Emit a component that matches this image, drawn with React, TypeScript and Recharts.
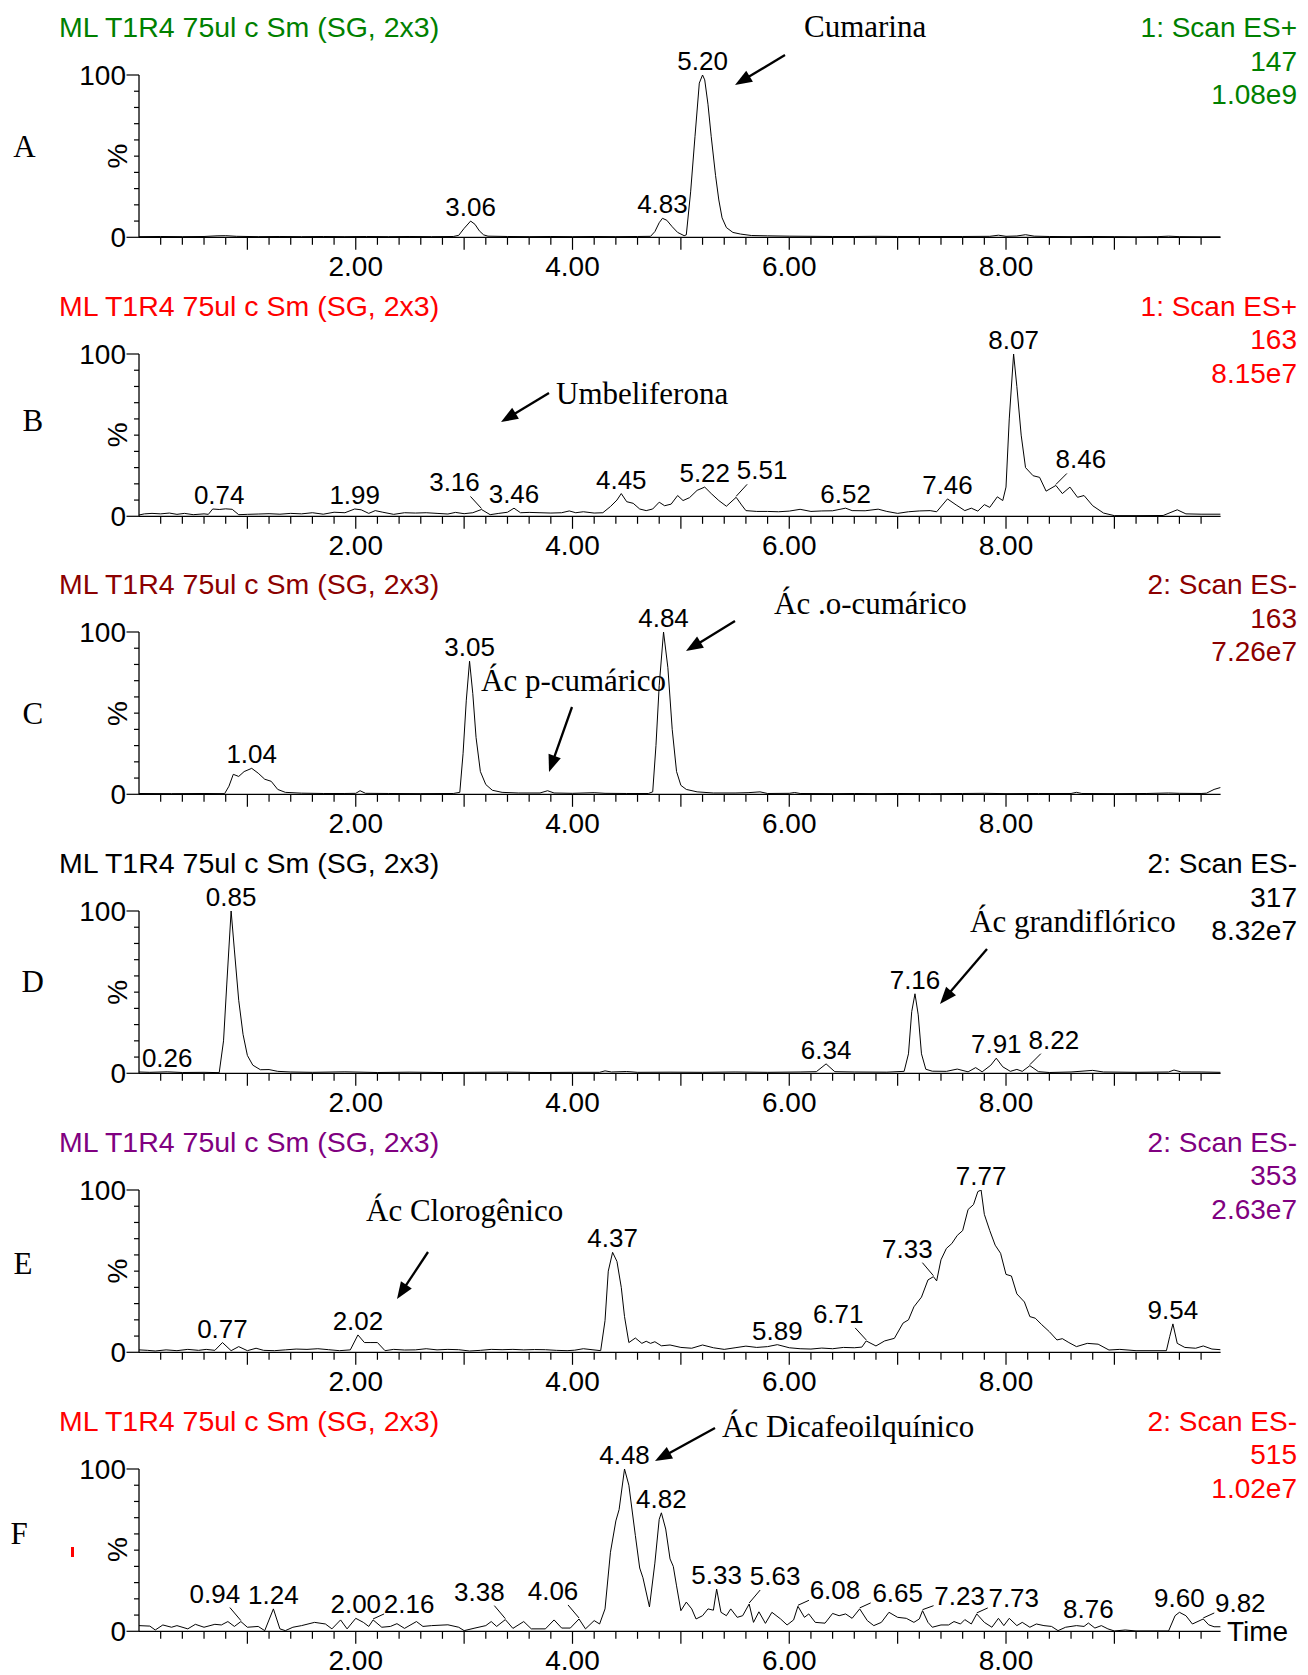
import React from 'react';
import { LineChart, Line, XAxis, YAxis, ReferenceDot } from 'recharts';

// ---------- data ----------
const sampleTitle = 'ML T1R4 75ul c Sm (SG, 2x3)';

const xTicks = [0.2, 0.4, 0.6, 0.8, 1, 1.2, 1.4, 1.6, 1.8, 2, 2.2, 2.4, 2.6, 2.8, 3, 3.2, 3.4, 3.6, 3.8, 4,
  4.2, 4.4, 4.6, 4.8, 5, 5.2, 5.4, 5.6, 5.8, 6, 6.2, 6.4, 6.6, 6.8, 7, 7.2, 7.4, 7.6, 7.8, 8,
  8.2, 8.4, 8.6, 8.8, 9, 9.2, 9.4, 9.6, 9.8];
const xLabelTicks = [2, 4, 6, 8];
const yTicks = [0, 10, 20, 30, 40, 50, 60, 70, 80, 90, 100];
const yLabelTicks = [0, 100];

const seriesA: [number, number][] = [
  [0, 0.4], [0.2, 0.5], [0.4, 0.4], [0.6, 0.5], [0.72, 0.9], [0.8, 1.0], [0.9, 0.6], [1.1, 0.4], [1.3, 0.5],
  [1.5, 0.4], [1.7, 0.5], [1.9, 0.4], [2.1, 0.5], [2.3, 0.4], [2.5, 0.5], [2.7, 0.4], [2.9, 0.5], [2.95, 1.2],
  [3.0, 5.5], [3.06, 10], [3.1, 8], [3.14, 4], [3.18, 1.5], [3.22, 0.7], [3.4, 0.5], [3.6, 0.4], [3.8, 0.5],
  [4.0, 0.4], [4.2, 0.5], [4.4, 0.4], [4.6, 0.5], [4.72, 0.6], [4.76, 3.5], [4.8, 9], [4.83, 11.7], [4.87, 10.5],
  [4.92, 6.5], [4.97, 3], [5.03, 1.0], [5.05, 1.5], [5.09, 28], [5.13, 62], [5.17, 95], [5.2, 100], [5.22, 97],
  [5.25, 82], [5.28, 62], [5.32, 38], [5.35, 23], [5.38, 12], [5.42, 6], [5.48, 3], [5.55, 2], [5.65, 1.1],
  [5.8, 0.9], [6.0, 0.7], [6.2, 0.6], [6.4, 0.5], [6.6, 0.5], [6.8, 0.6], [7.0, 0.5], [7.2, 0.5], [7.4, 0.5],
  [7.6, 0.5], [7.85, 0.6], [7.93, 1.3], [8.0, 0.6], [8.1, 0.8], [8.18, 1.6], [8.26, 0.7], [8.4, 0.5], [8.6, 0.4],
  [8.8, 0.5], [9.0, 0.4], [9.2, 0.3], [9.4, 0.4], [9.5, 0.7], [9.6, 0.4], [9.8, 0.3], [9.98, 0.3],
];
const peaksA: [number, number][] = [[3.06, 10], [4.83, 11.7], [5.2, 100]];

const seriesB: [number, number][] = [
  [0, 0.8], [0.05, 1.5], [0.12, 1.8], [0.2, 1.5], [0.28, 2], [0.35, 1.2], [0.42, 1.8], [0.5, 1], [0.6, 1.5],
  [0.64, 1.2], [0.68, 4.5], [0.74, 4.2], [0.8, 4.6], [0.86, 4.3], [0.92, 1], [1.0, 1.2], [1.1, 1.4], [1.2, 1.6],
  [1.3, 1.3], [1.4, 1.8], [1.5, 1.5], [1.6, 2.2], [1.7, 1.3], [1.8, 2.5], [1.9, 2.2], [1.99, 4.5], [2.05, 4],
  [2.12, 1.8], [2.18, 3.5], [2.25, 2.5], [2.35, 1.2], [2.45, 2.2], [2.55, 2], [2.65, 2.2], [2.75, 1.8], [2.85, 1.4],
  [2.92, 2.4], [3.0, 1.6], [3.08, 2.2], [3.16, 4.2], [3.24, 1], [3.32, 1.8], [3.4, 2.5], [3.46, 5], [3.52, 2.2],
  [3.6, 2.4], [3.7, 2.2], [3.8, 2], [3.9, 2.2], [3.97, 3.3], [4.03, 2.2], [4.1, 2.8], [4.2, 2], [4.28, 2.2],
  [4.35, 6], [4.41, 10], [4.45, 14], [4.5, 9], [4.56, 8], [4.62, 4.5], [4.68, 3.5], [4.74, 4.5], [4.8, 8.7],
  [4.85, 6.5], [4.91, 7.5], [4.97, 12.8], [5.02, 9.7], [5.08, 11.5], [5.15, 16], [5.22, 18], [5.28, 14],
  [5.35, 9.7], [5.42, 6.2], [5.51, 11.7], [5.56, 7], [5.6, 3.5], [5.7, 3], [5.8, 3], [5.9, 2.8], [6.0, 3.2],
  [6.1, 4.3], [6.2, 3], [6.3, 3.3], [6.4, 3.4], [6.52, 5], [6.58, 3.5], [6.7, 3.4], [6.82, 4.4], [6.9, 3],
  [7.0, 1.8], [7.1, 2.8], [7.2, 3.3], [7.3, 3.5], [7.36, 2.8], [7.46, 10.7], [7.54, 7], [7.62, 3.5], [7.68, 5],
  [7.74, 3.2], [7.8, 7.2], [7.85, 5.5], [7.92, 12], [7.97, 9.7], [8.0, 18], [8.03, 60], [8.07, 100], [8.1, 80],
  [8.14, 50], [8.18, 30], [8.25, 25], [8.31, 24], [8.37, 15.5], [8.46, 19], [8.52, 14], [8.59, 18], [8.66, 11.7],
  [8.72, 12.8], [8.8, 6.5], [8.9, 2], [9.0, 0.4], [9.2, 0.4], [9.45, 0.5], [9.58, 4], [9.66, 1.5], [9.8, 1.3],
  [9.98, 1.3],
];
const peaksB: [number, number][] = [[0.74, 4.2], [1.99, 4.5], [3.16, 4.2], [3.46, 5], [4.45, 14], [5.22, 18],
  [5.51, 11.7], [6.52, 5], [7.46, 10.7], [8.07, 100], [8.46, 19]];

const seriesC: [number, number][] = [
  [0, 0.5], [0.3, 0.4], [0.6, 0.5], [0.79, 0.4], [0.83, 5], [0.87, 12.3], [0.92, 11], [0.97, 14], [1.04, 16],
  [1.1, 13], [1.16, 9.3], [1.22, 8], [1.28, 3], [1.35, 1.2], [1.5, 0.7], [1.7, 0.5], [1.9, 0.5], [2.0, 0.6],
  [2.04, 2.2], [2.09, 0.6], [2.3, 0.5], [2.6, 0.4], [2.9, 0.5], [2.96, 1.2], [2.99, 25], [3.02, 58], [3.05, 82],
  [3.08, 62], [3.11, 35], [3.15, 14], [3.2, 6], [3.26, 2.5], [3.35, 1.2], [3.5, 0.8], [3.7, 0.8], [3.77, 2.2],
  [3.83, 0.8], [4.0, 0.6], [4.2, 1], [4.3, 0.6], [4.5, 0.5], [4.7, 0.5], [4.74, 1.5], [4.77, 30], [4.8, 67],
  [4.84, 100], [4.88, 78], [4.92, 40], [4.96, 14], [5.0, 5.5], [5.05, 3], [5.15, 1.5], [5.3, 0.8], [5.5, 0.8],
  [5.62, 1], [5.73, 1.5], [5.8, 0.5], [6.0, 0.6], [6.05, 1.1], [6.1, 0.5], [6.4, 0.4], [6.6, 0.5], [6.8, 0.4],
  [7.0, 0.5], [7.3, 0.4], [7.6, 0.5], [7.8, 0.6], [8.0, 0.4], [8.3, 0.5], [8.6, 0.5], [8.65, 1.2], [8.7, 0.5],
  [9.0, 0.4], [9.3, 0.5], [9.5, 0.8], [9.6, 0.6], [9.8, 0.5], [9.85, 0.7], [9.92, 3], [9.98, 4.2],
];
const peaksC: [number, number][] = [[1.04, 16], [3.05, 82], [4.84, 100]];

const seriesD: [number, number][] = [
  [0, 0.8], [0.1, 0.6], [0.26, 0.9], [0.4, 0.5], [0.6, 0.6], [0.74, 0.4], [0.78, 20], [0.81, 55], [0.85, 100],
  [0.88, 76], [0.92, 45], [0.96, 24], [1.0, 11], [1.05, 5], [1.12, 2.2], [1.2, 2.3], [1.28, 1.2], [1.4, 0.8],
  [1.6, 0.6], [1.9, 0.9], [2.2, 0.5], [2.5, 0.7], [2.8, 0.5], [3.1, 0.6], [3.4, 0.7], [3.7, 0.5], [4.0, 0.6],
  [4.25, 0.6], [4.3, 1.5], [4.36, 0.8], [4.5, 1.1], [4.6, 0.6], [4.9, 0.7], [5.2, 0.6], [5.5, 0.8], [5.8, 0.6],
  [6.1, 0.8], [6.25, 1], [6.34, 5.8], [6.42, 1], [6.6, 0.8], [6.9, 0.7], [7.06, 1.2], [7.1, 12], [7.13, 38],
  [7.16, 49], [7.19, 36], [7.22, 12], [7.26, 2.5], [7.32, 1.3], [7.45, 1.2], [7.55, 2.6], [7.65, 0.9],
  [7.72, 3.5], [7.78, 0.9], [7.86, 5], [7.91, 9.3], [7.97, 4], [8.04, 1.2], [8.1, 2.4], [8.15, 1.2], [8.22, 4.7],
  [8.3, 1], [8.4, 0.5], [8.6, 0.8], [8.8, 1.8], [8.9, 0.8], [9.2, 0.6], [9.5, 0.8], [9.55, 2], [9.62, 0.8],
  [9.8, 0.8], [9.98, 0.6],
];
const peaksD: [number, number][] = [[0.26, 0.9], [0.85, 100], [6.34, 5.8], [7.16, 49], [7.91, 9.3], [8.22, 4.7]];

const seriesE: [number, number][] = [
  [0, 1.5], [0.08, 1.2], [0.15, 0.8], [0.25, 1.5], [0.35, 1], [0.45, 1.8], [0.55, 1.2], [0.62, 1.8], [0.7, 1.2],
  [0.77, 6], [0.85, 1], [0.92, 3.5], [1.0, 1], [1.08, 2.5], [1.15, 1.2], [1.25, 1], [1.35, 1.5], [1.45, 2],
  [1.55, 1.8], [1.65, 2.2], [1.75, 1.6], [1.85, 1], [1.95, 1.5], [2.02, 10.7], [2.08, 6], [2.14, 6], [2.2, 6],
  [2.27, 1], [2.35, 1.8], [2.45, 1.4], [2.55, 1.5], [2.65, 2.2], [2.75, 1.5], [2.85, 1.8], [2.95, 1.6],
  [3.05, 0.8], [3.15, 1.2], [3.25, 1.8], [3.35, 1.6], [3.45, 1.8], [3.55, 1.5], [3.65, 1.7], [3.75, 1.6],
  [3.85, 1.2], [3.95, 1], [4.02, 1.3], [4.1, 2.2], [4.18, 1.6], [4.26, 1], [4.3, 19.5], [4.33, 50], [4.37, 61.6],
  [4.41, 56], [4.45, 40], [4.48, 22], [4.52, 6], [4.58, 8.8], [4.64, 5.5], [4.68, 6.8], [4.72, 5.5], [4.76, 6.5],
  [4.82, 4], [4.9, 4.5], [5.0, 3], [5.1, 2.5], [5.2, 4.5], [5.3, 2.8], [5.4, 1.8], [5.5, 2.8], [5.6, 3.8],
  [5.7, 3], [5.8, 3.5], [5.89, 4.7], [6.0, 2.8], [6.1, 2.2], [6.2, 2], [6.3, 2.6], [6.4, 2.2], [6.5, 3],
  [6.6, 2.8], [6.67, 3.2], [6.71, 7], [6.8, 3.9], [6.88, 7], [6.97, 8.6], [7.05, 18], [7.1, 20], [7.15, 28],
  [7.22, 34], [7.28, 44.6], [7.33, 46.6], [7.36, 44], [7.4, 57], [7.45, 64], [7.5, 67], [7.55, 72], [7.6, 75],
  [7.65, 88], [7.7, 91], [7.74, 99], [7.77, 100], [7.8, 85], [7.85, 75], [7.9, 66], [7.95, 61], [8.0, 48],
  [8.05, 47], [8.1, 36], [8.17, 31], [8.22, 22], [8.27, 21], [8.33, 17], [8.4, 12.7], [8.47, 7.6], [8.52, 8.4],
  [8.58, 6], [8.65, 3.5], [8.75, 5.5], [8.85, 5], [8.95, 1.4], [9.05, 1.8], [9.2, 1], [9.48, 1], [9.51, 9.6],
  [9.54, 17.5], [9.58, 5.5], [9.65, 3], [9.75, 2.5], [9.82, 3.9], [9.9, 2], [9.98, 1.6],
];
const peaksE: [number, number][] = [[0.77, 6], [2.02, 10.7], [4.37, 61.6], [5.89, 4.7], [6.71, 7], [7.33, 46.6],
  [7.77, 100], [9.54, 17.5]];

const seriesF: [number, number][] = [
  [0, 3.5], [0.1, 3.2], [0.15, 0.8], [0.22, 3.9], [0.3, 2.5], [0.35, 3.5], [0.45, 1.5], [0.52, 4.3], [0.6, 2.5],
  [0.7, 4.3], [0.76, 3.9], [0.82, 6], [0.88, 3], [0.94, 6], [1.0, 2.5], [1.1, 3], [1.16, 0.4], [1.24, 13.8],
  [1.3, 1.5], [1.35, 0.4], [1.42, 2.5], [1.5, 3.5], [1.62, 5.5], [1.72, 4.5], [1.78, 1.5], [1.86, 7], [1.92, 1.5],
  [2.0, 8], [2.07, 5.5], [2.12, 3], [2.16, 7], [2.24, 2.5], [2.32, 3], [2.38, 4.7], [2.45, 1.8], [2.56, 6],
  [2.62, 3], [2.7, 3.5], [2.85, 4], [2.95, 2.5], [3.0, 0.4], [3.1, 2], [3.2, 3.5], [3.25, 6], [3.3, 3],
  [3.38, 7.2], [3.45, 1.8], [3.55, 6], [3.62, 1.5], [3.75, 1.5], [3.83, 7], [3.9, 2], [3.98, 2], [4.06, 7.6],
  [4.12, 1.5], [4.2, 6.6], [4.25, 4.5], [4.3, 13.8], [4.35, 48.7], [4.4, 68], [4.43, 75], [4.48, 100], [4.52, 90],
  [4.58, 59], [4.62, 39], [4.65, 33], [4.71, 15], [4.76, 42], [4.8, 69], [4.82, 73], [4.86, 63], [4.9, 44.6],
  [4.93, 40], [4.96, 28], [5.0, 12.7], [5.05, 18], [5.1, 13.8], [5.14, 7.6], [5.2, 9.6], [5.25, 13.8], [5.3, 13],
  [5.33, 26], [5.37, 11.7], [5.42, 9.6], [5.46, 13.8], [5.52, 8.6], [5.57, 9.6], [5.63, 16.8], [5.67, 5.5],
  [5.72, 12], [5.78, 4.9], [5.84, 11.7], [5.92, 7.6], [5.98, 3.9], [6.04, 7], [6.08, 15.4], [6.14, 8.6],
  [6.18, 10.7], [6.24, 5.5], [6.33, 5], [6.4, 11], [6.46, 9.6], [6.52, 10.7], [6.58, 8], [6.65, 13.8], [6.72, 6.6],
  [6.78, 3.5], [6.85, 5.5], [6.92, 11.7], [7.0, 8.6], [7.08, 8], [7.15, 5.5], [7.2, 7.6], [7.23, 12.7], [7.28, 5.5],
  [7.32, 2.5], [7.4, 3.9], [7.47, 3.9], [7.52, 6], [7.58, 4.5], [7.62, 7.2], [7.68, 4.5], [7.73, 10.7], [7.8, 5.5],
  [7.87, 2.5], [7.93, 8], [7.98, 3.5], [8.03, 8], [8.1, 3.5], [8.15, 5.5], [8.22, 2.5], [8.28, 4.5], [8.35, 3.5],
  [8.42, 3], [8.48, 0.4], [8.55, 2.5], [8.65, 3.5], [8.72, 3], [8.76, 5.1], [8.82, 2], [8.88, 3.5], [8.94, 1.5],
  [9.0, 0.2], [9.1, 0.8], [9.2, 0.2], [9.5, 0.2], [9.56, 9.6], [9.6, 11.7], [9.66, 9.6], [9.72, 4.5], [9.82, 7.6],
  [9.87, 4], [9.92, 2.8], [9.98, 2.8],
];
const peaksF: [number, number][] = [[0.94, 6], [1.24, 13.8], [2.0, 8], [2.16, 7], [3.38, 7.2], [4.06, 7.6],
  [4.48, 100], [4.82, 73], [5.33, 26], [5.63, 16.8], [6.08, 15.4], [6.65, 13.8], [7.23, 12.7], [7.73, 10.7],
  [8.76, 5.1], [9.6, 11.7], [9.82, 7.6]];

// ---------- layout / style ----------
const W = 1308;
const H = 1675;
const STEP = 278.7;
const PLOT_TOP = 75;
const PLOT_H = 162.3;
const X_AXIS_H = 56;
const SANS = '"Liberation Sans", Arial, Helvetica, sans-serif';
const SERIF = '"Liberation Serif", "Times New Roman", Times, serif';

// label offsets for labels with leader lines: [dx px, dy px]
const leaderOffsets: Record<string, [number, number]> = {
  'B3.16': [-27, 18], 'B5.51': [26, 18], 'B8.46': [25, 17],
  'D8.22': [24, 17],
  'E6.71': [-28, 18], 'E7.33': [-26, 19],
  'F0.94': [-26, 19], 'F2.16': [36, 7], 'F3.38': [-26, 19], 'F4.06': [-26, 19], 'F5.63': [26, 19],
  'F6.08': [37, 7], 'F6.65': [38, 7], 'F7.23': [37, 6], 'F7.73': [37, 7], 'F9.82': [37, 7],
};

type Note = { text: string; x: number; y: number; arrow: [number, number, number, number] };
type Panel = {
  id: string; color: string; scan: string; mass: string; scale: string;
  series: [number, number][]; peaks: [number, number][]; letter: [number, number]; notes: Note[];
};

const panels: Panel[] = [
  { id: 'A', color: '#008000', scan: '1: Scan ES+', mass: '147', scale: '1.08e9', series: seriesA, peaks: peaksA,
    letter: [24.4, 146.7], notes: [{ text: 'Cumarina', x: 804, y: 37, arrow: [785, 55, 735, 85] }] },
  { id: 'B', color: '#ff0000', scan: '1: Scan ES+', mass: '163', scale: '8.15e7', series: seriesB, peaks: peaksB,
    letter: [32.8, 420.7], notes: [{ text: 'Umbeliferona', x: 556, y: 403.5, arrow: [549, 393, 501, 422] }] },
  { id: 'C', color: '#8b0000', scan: '2: Scan ES-', mass: '163', scale: '7.26e7', series: seriesC, peaks: peaksC,
    letter: [32.8, 713], notes: [
      { text: 'Ác p-cumárico', x: 481, y: 691, arrow: [572, 707, 549, 772] },
      { text: 'Ác .o-cumárico', x: 774, y: 614, arrow: [735, 621, 686, 651] },
    ] },
  { id: 'D', color: '#000000', scan: '2: Scan ES-', mass: '317', scale: '8.32e7', series: seriesD, peaks: peaksD,
    letter: [32.8, 981.7], notes: [{ text: 'Ác grandiflórico', x: 970, y: 932, arrow: [987, 949, 940, 1004] }] },
  { id: 'E', color: '#800080', scan: '2: Scan ES-', mass: '353', scale: '2.63e7', series: seriesE, peaks: peaksE,
    letter: [23, 1263], notes: [{ text: 'Ác Clorogênico', x: 366, y: 1221, arrow: [428, 1252, 397, 1299] }] },
  { id: 'F', color: '#ff0000', scan: '2: Scan ES-', mass: '515', scale: '1.02e7', series: seriesF, peaks: peaksF,
    letter: [19, 1533], notes: [{ text: 'Ác Dicafeoilquínico', x: 722, y: 1437, arrow: [715, 1428, 655, 1461] }] },
];

// ---------- components ----------
const XTick = (props: any) => {
  const { x, y, payload } = props;
  const v = payload.value as number;
  const isInt = Math.abs(v - Math.round(v)) < 1e-6;
  const labeled = isInt && xLabelTicks.includes(Math.round(v));
  return (
    <g>
      <line x1={x} y1={y} x2={x} y2={y + (isInt ? 12.5 : 7.5)} stroke="#000" strokeWidth={1.2} />
      {labeled && (
        <text x={x} y={y + 39} textAnchor="middle" fontFamily={SANS} fontSize={28} fill="#000">
          {v.toFixed(2)}
        </text>
      )}
    </g>
  );
};

const YTick = (props: any) => {
  const { x, y, payload } = props;
  const v = payload.value as number;
  const major = yLabelTicks.includes(v);
  return (
    <g>
      <line x1={x - (major ? 12.5 : 5)} y1={y} x2={x} y2={y} stroke="#000" strokeWidth={1.2} />
      {major && (
        <text x={x - 13} y={y + 10} textAnchor="end" fontFamily={SANS} fontSize={28} fill="#000">
          {v}
        </text>
      )}
    </g>
  );
};

const PeakLabel = (props: any) => {
  const { cx, cy, text, off } = props;
  if (cx == null || cy == null) return <g />;
  const [dx, dy] = off || [0, 5];
  const bx = cx + dx;
  const by = cy - dy;
  const s = Math.sign(dx);
  return (
    <g>
      {dx !== 0 && (
        <line x1={cx + s * 11} y1={by + (dy > 10 ? 5 : 1)} x2={cx} y2={cy - 1} stroke="#000" strokeWidth={1} />
      )}
      <text x={bx} y={by} textAnchor="middle" fontFamily={SANS} fontSize={26} fill="#000">
        {text}
      </text>
    </g>
  );
};

const Arrow = ({ a }: { a: [number, number, number, number] }) => {
  const [x1, y1, x2, y2] = a;
  const dx = x2 - x1;
  const dy = y2 - y1;
  const len = Math.hypot(dx, dy);
  const ux = dx / len;
  const uy = dy / len;
  const hl = 17;
  const hw = 6.5;
  const bx = x2 - ux * hl;
  const by = y2 - uy * hl;
  const pts = `${x2},${y2} ${bx - uy * hw},${by + ux * hw} ${bx + uy * hw},${by - ux * hw}`;
  return (
    <g>
      <line x1={x1} y1={y1} x2={bx + ux * 2} y2={by + uy * 2} stroke="#000" strokeWidth={2.3} />
      <polygon points={pts} fill="#000" />
    </g>
  );
};

const PanelChart = ({ p, i }: { p: Panel; i: number }) => {
  const data = p.series.map(([t, v]) => ({ t, v }));
  return (
    <div style={{ position: 'absolute', left: 0, top: i * STEP }}>
      <LineChart
        width={W}
        height={PLOT_TOP + PLOT_H + X_AXIS_H}
        data={data}
        margin={{ top: PLOT_TOP, right: W - 1220.6, left: 79, bottom: 0 }}
      >
        <XAxis
          type="number"
          dataKey="t"
          domain={[0, 9.98]}
          allowDataOverflow
          ticks={xTicks}
          interval={0}
          tick={<XTick />}
          tickLine={false}
          tickSize={0}
          tickMargin={0}
          height={X_AXIS_H}
          axisLine={{ stroke: '#000', strokeWidth: 1.3 }}
        />
        <YAxis
          type="number"
          domain={[0, 100]}
          allowDataOverflow
          ticks={yTicks}
          interval={0}
          tick={<YTick />}
          tickLine={false}
          tickSize={0}
          tickMargin={0}
          width={60}
          axisLine={{ stroke: '#000', strokeWidth: 1.3 }}
        />
        <Line
          type="linear"
          dataKey="v"
          stroke="#000"
          strokeWidth={1}
          dot={false}
          activeDot={false}
          isAnimationActive={false}
        />
        {p.peaks.map(([t, v]) => {
          const text = t.toFixed(2);
          const off = leaderOffsets[p.id + text];
          return (
            <ReferenceDot
              key={text}
              x={t}
              y={v}
              r={0}
              ifOverflow="visible"
              shape={(sp: any) => <PeakLabel cx={sp.cx} cy={sp.cy} text={text} off={off} />}
            />
          );
        })}
      </LineChart>
    </div>
  );
};

export default function App() {
  return (
    <div
      style={{ position: 'absolute', left: 0, top: 0, width: W, height: H, background: '#fff', overflow: 'hidden' }}
    >
      {panels.map((p, i) => (
        <PanelChart key={p.id} p={p} i={i} />
      ))}
      <svg
        width={W}
        height={H}
        style={{ position: 'absolute', left: 0, top: 0, pointerEvents: 'none' }}
      >
        {panels.map((p, i) => {
          const top = PLOT_TOP + i * STEP;
          return (
            <g key={p.id}>
              <text x={59} y={top - 38} fontFamily={SANS} fontSize={28.5} fill={p.color}>
                {sampleTitle}
              </text>
              <text x={1297} y={top - 38} textAnchor="end" fontFamily={SANS} fontSize={28} fill={p.color}>
                {p.scan}
              </text>
              <text x={1297} y={top - 4.5} textAnchor="end" fontFamily={SANS} fontSize={28} fill={p.color}>
                {p.mass}
              </text>
              <text x={1297} y={top + 29} textAnchor="end" fontFamily={SANS} fontSize={28} fill={p.color}>
                {p.scale}
              </text>
              <text x={p.letter[0]} y={p.letter[1] + 10.5} textAnchor="middle" fontFamily={SERIF} fontSize={31} fill="#000">
                {p.id}
              </text>
              <text
                x={0}
                y={0}
                transform={`translate(127, ${top + PLOT_H / 2}) rotate(-90)`}
                textAnchor="middle"
                fontFamily={SANS}
                fontSize={28}
                fill="#000"
              >
                %
              </text>
              {p.notes.map((n) => (
                <g key={n.text}>
                  <text x={n.x} y={n.y} fontFamily={SERIF} fontSize={31} fill="#000">
                    {n.text}
                  </text>
                  <Arrow a={n.arrow} />
                </g>
              ))}
            </g>
          );
        })}
        <rect x={71} y={1547} width={3} height={10} fill="#ff0000" />
        <text x={1227} y={1641} fontFamily={SANS} fontSize={28} fill="#000">
          Time
        </text>
      </svg>
    </div>
  );
}
